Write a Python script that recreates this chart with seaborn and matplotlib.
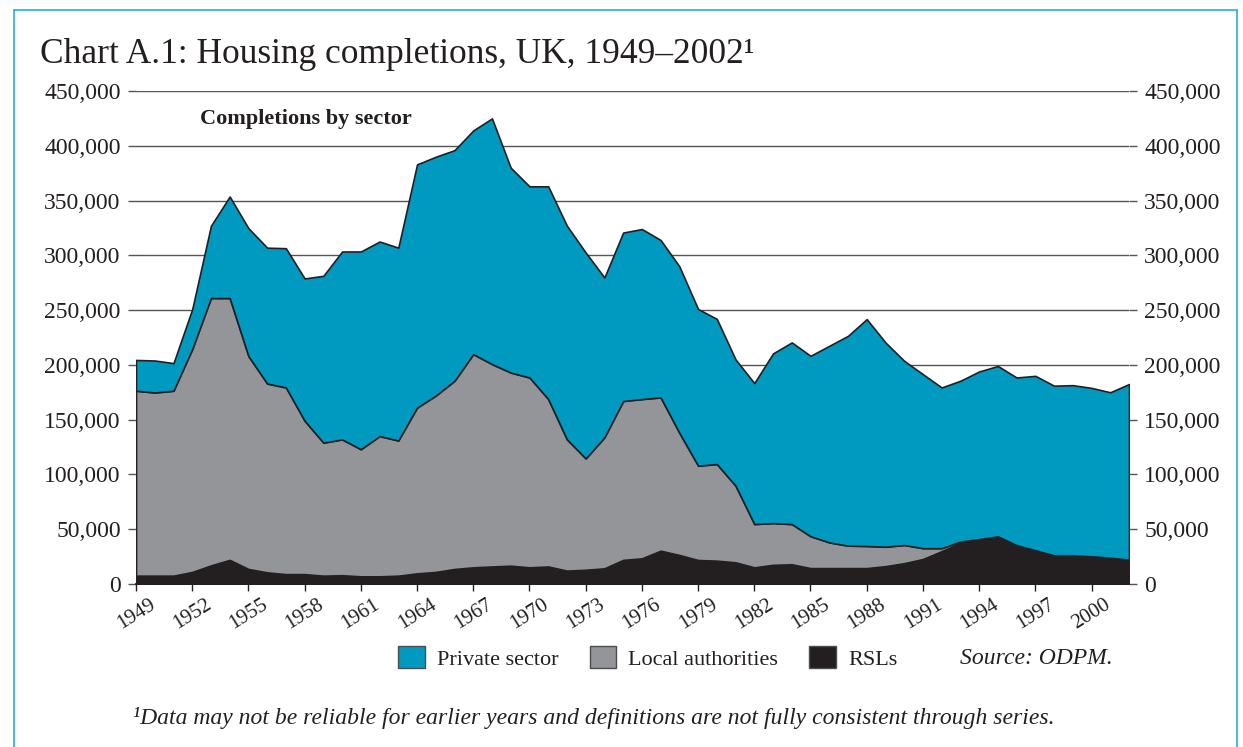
import matplotlib
matplotlib.use("Agg")
import matplotlib.pyplot as plt
from matplotlib.patches import Patch
from matplotlib.lines import Line2D
from matplotlib.ticker import FuncFormatter
import numpy as np
import pandas as pd
import seaborn as sns

# completions by sector, UK (dwellings)
years = list(range(1949, 2003))

rsls = [7600, 7600, 7600, 11000, 17000, 22000, 13700, 10600, 9000, 9000,
        7600, 8000, 7000, 7000, 7600, 9700, 11000, 13700, 15200, 16000,
        16700, 15200, 16000, 12200, 13000, 14300, 22000, 23400, 30400, 26500,
        21900, 21300, 19800, 15200, 17500, 18000, 14500, 14500, 14500, 14500,
        16300, 19000, 22800, 30000, 37500, 39500, 42000, 35000, 30400, 25900,
        25900, 25000, 23700, 21900]

local_authorities = [168800, 167200, 168800, 203400, 244000, 239000, 194300, 172400, 170400, 140000,
                     121400, 124000, 116000, 128000, 123400, 151300, 161000, 171800, 194600, 184700,
                     176300, 173300, 152800, 119800, 101600, 119500, 145000, 145400, 139900, 111500,
                     86100, 88200, 69900, 39500, 38100, 36700, 29100, 23500, 20500, 20200,
                     17700, 16600, 9900, 2700, 1300, 1500, 1500, 500, 400, 300,
                     300, 300, 300, 300]

private_sector = [28100, 29200, 25200, 36500, 66000, 92700, 116800, 124000, 127100, 129900,
                  152300, 171500, 180500, 177600, 176000, 222000, 218000, 210500, 204200, 224300,
                  187000, 174500, 194200, 195000, 188000, 146000, 153800, 155200, 143700, 152000,
                  143000, 132500, 115300, 128700, 154900, 165800, 164700, 179400, 191500, 207100,
                  186500, 168100, 158800, 146700, 146700, 153000, 155500, 153000, 159200, 154800,
                  155300, 153700, 151000, 160300]

sector_names = ["Private sector", "Local authorities", "RSLs"]
sector_colors = ["#0099bf", "#939598", "#231f20"]

y_ticks = list(range(0, 450001, 50000))
x_ticks = list(range(1949, 2001, 3))

df = pd.DataFrame({
    "year": years,
    "RSLs": rsls,
    "Local authorities": local_authorities,
    "Private sector": private_sector,
})

sns.set_theme(style="white")
plt.rcParams["font.family"] = ["Liberation Serif", "DejaVu Serif"]

fig = plt.figure(figsize=(12.43, 7.47), dpi=100)
ax = fig.add_axes([136 / 1243, 1 - 584 / 747, 993 / 1243, 493 / 747])

# stacked areas, bottom to top: RSLs, local authorities, private sector
ax.stackplot(
    df["year"],
    df["RSLs"], df["Local authorities"], df["Private sector"],
    colors=sector_colors[::-1],
    edgecolor="#231f20",
    linewidth=1.2,
    zorder=2,
)

ax.set_xlim(1949, 2002)
ax.set_ylim(0, 450000)
ax.set_axisbelow(True)
ax.yaxis.grid(True, color="#555555", linewidth=1.0)
ax.xaxis.grid(False)

sns.despine(ax=ax, left=True, right=True, top=True)
ax.spines["bottom"].set_color("#231f20")
ax.spines["bottom"].set_linewidth(1.3)
ax.spines["bottom"].set_zorder(3)

ax.set_yticks(y_ticks)
ax.yaxis.set_major_formatter(FuncFormatter(lambda v, p: f"{int(v):,}"))
ax.tick_params(axis="y", which="major", left=True, right=True, labelleft=True,
               labelright=True, length=6, width=1.0, color="#555555",
               labelsize=17, pad=5, labelcolor="#231f20")
ax.set_xticks(x_ticks)
ax.set_xticklabels([str(y) for y in x_ticks], rotation=32, ha="center")
ax.tick_params(axis="x", which="major", bottom=True, length=5, width=1.0,
               color="#231f20", labelsize=15, pad=3, labelcolor="#231f20")
ax.set_xlabel("")
ax.set_ylabel("")

# title and annotations
fig.text(40 / 1243, 1 - 63 / 747, "Chart A.1: Housing completions, UK, 1949–2002¹",
         fontsize=25.5, color="#231f20", va="baseline", ha="left")
fig.text(200 / 1243, 1 - 124 / 747, "Completions by sector", fontsize=16,
         fontweight="bold", color="#231f20", va="baseline", ha="left")

handles = [Patch(facecolor=c, edgecolor="#4d4d4d", linewidth=1.0) for c in sector_colors]
fig.legend(handles, sector_names, loc="center left",
           bbox_to_anchor=(398 / 1243, 1 - 658 / 747), ncol=3, frameon=False,
           fontsize=16, handlelength=1.2, handleheight=1.1, handletextpad=0.55,
           columnspacing=1.4, borderpad=0, borderaxespad=0, labelcolor="#231f20")
fig.text(960 / 1243, 1 - 658 / 747, "Source: ODPM.", fontsize=17, style="italic",
         color="#231f20", va="center", ha="left")
fig.text(133 / 1243, 1 - 718 / 747,
         "¹Data may not be reliable for earlier years and definitions are not fully consistent through series.",
         fontsize=17, style="italic", color="#231f20", va="center", ha="left")

# light blue frame round the panel
frame_color = "#29abe2"
for xs, ys in [((14 / 1243, 14 / 1243), (-0.1, 1 - 10 / 747)),
               ((14 / 1243, 1237 / 1243), (1 - 10 / 747, 1 - 10 / 747)),
               ((1237 / 1243, 1237 / 1243), (-0.1, 1 - 10 / 747))]:
    fig.add_artist(Line2D(xs, ys, transform=fig.transFigure, color=frame_color, linewidth=1.2))

fig.savefig("out.png", dpi=100)
plt.close(fig)
